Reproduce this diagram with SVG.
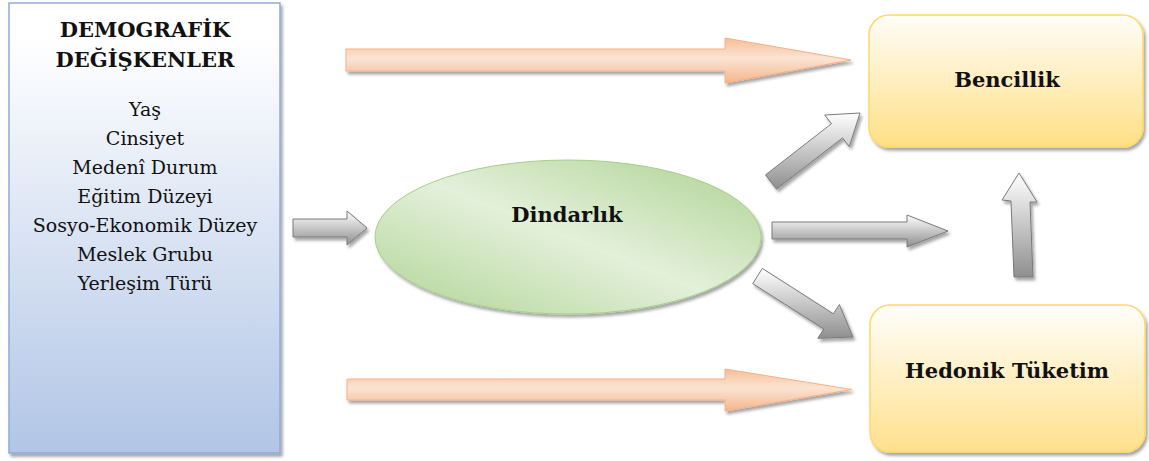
<svg xmlns="http://www.w3.org/2000/svg" width="1149" height="461" viewBox="0 0 1149 461">
<defs>
<style>
.lbl{font-family:"DejaVu Serif","Liberation Serif",serif;fill:#111;text-anchor:middle}
.b{font-weight:bold;font-size:21px}
.r{font-size:19px}
.grey{fill:url(#gGrey);stroke:#7a7a7a;stroke-width:1;filter:url(#sh)}
.orange{fill:url(#gOrange);stroke:#f4b183;stroke-width:1;filter:url(#sh)}
.ybox{stroke:#ffd966;stroke-width:1.5;filter:url(#sh)}
</style>
<filter id="sh" x="-10%" y="-20%" width="125%" height="150%">
<feDropShadow dx="2" dy="3" stdDeviation="1.5" flood-color="#000" flood-opacity="0.35"/>
</filter>
<linearGradient id="gBlue" x1="0" y1="0" x2="0" y2="1">
<stop offset="0" stop-color="#ffffff"/>
<stop offset="0.08" stop-color="#ffffff"/>
<stop offset="1" stop-color="#b1c5e6"/>
</linearGradient>
<linearGradient id="gGreen" x1="1" y1="0" x2="0" y2="1">
<stop offset="0" stop-color="#aed291"/>
<stop offset="0.5" stop-color="#e3f0da"/>
<stop offset="1" stop-color="#b1d495"/>
</linearGradient>
<linearGradient id="gY1" x1="0" y1="0" x2="0" y2="1">
<stop offset="0" stop-color="#fffdf8"/>
<stop offset="1" stop-color="#ffdf85"/>
</linearGradient>
<linearGradient id="gY2" x1="0" y1="0" x2="0" y2="1">
<stop offset="0" stop-color="#fffefb"/>
<stop offset="1" stop-color="#ffe08c"/>
</linearGradient>
<linearGradient id="gGrey" x1="0" y1="0" x2="0" y2="1">
<stop offset="0" stop-color="#ffffff"/>
<stop offset="1" stop-color="#8f8f8f"/>
</linearGradient>
<linearGradient id="gOrange" x1="0" y1="0" x2="0" y2="1">
<stop offset="0" stop-color="#f6be97"/>
<stop offset="0.45" stop-color="#fbe4d4"/>
<stop offset="1" stop-color="#f4b68b"/>
</linearGradient>
</defs>
<rect width="1149" height="461" fill="#ffffff"/>

<g id="connectors">
<polygon class="orange" points="346,49 725,49 725,38 851,60 725,83 725,71 346,71"/>
<polygon class="orange" points="347,379 725,379 725,369 852,389.5 725,411 725,400 347,400"/>
<polygon class="grey" points="293,219 347,219 347,211 367,228 347,245 347,237 293,237"/>
<polygon class="grey" points="765.5,174.9 831.5,123.7 824.7,115 860,113 849.3,146.6 842.5,137.9 776.5,189.1"/>
<polygon class="grey" points="772,222 907,222 907,215 948,231 907,247 907,239 772,239"/>
<polygon class="grey" points="762.3,268.4 833.4,313.8 839.4,304.5 853,337 817.8,338.3 823.8,329 752.7,283.6"/>
<polygon class="grey" points="1014,277 1011,201 1002,200 1019,173 1037,202 1030,202 1033,277"/>
</g>

<g id="demografik">
<rect x="9" y="3" width="271" height="450" fill="url(#gBlue)" stroke="#8eaadb" stroke-width="1.5" filter="url(#sh)"/>
<text class="lbl b" x="145" y="37">DEMOGRAFİK</text>
<text class="lbl b" x="145" y="67">DEĞİŞKENLER</text>
<text class="lbl r" x="145" y="116">Yaş</text>
<text class="lbl r" x="145" y="145">Cinsiyet</text>
<text class="lbl r" x="145" y="174">Medenî Durum</text>
<text class="lbl r" x="145" y="203">Eğitim Düzeyi</text>
<text class="lbl r" x="145" y="232">Sosyo-Ekonomik Düzey</text>
<text class="lbl r" x="145" y="261">Meslek Grubu</text>
<text class="lbl r" x="145" y="290">Yerleşim Türü</text>
</g>

<g id="dindarlik">
<ellipse cx="568" cy="237" rx="193" ry="77" fill="url(#gGreen)" stroke="#a6cf8a" stroke-width="1" filter="url(#sh)"/>
<text class="lbl b" x="567" y="222">Dindarlık</text>
</g>

<g id="bencillik">
<rect class="ybox" x="869" y="15" width="274" height="132" rx="20" fill="url(#gY1)"/>
<text class="lbl b" x="1007" y="87">Bencillik</text>
</g>

<g id="hedonik">
<rect class="ybox" x="870" y="305" width="275" height="147" rx="20" fill="url(#gY2)"/>
<text class="lbl b" x="1007" y="378">Hedonik Tüketim</text>
</g>
</svg>
